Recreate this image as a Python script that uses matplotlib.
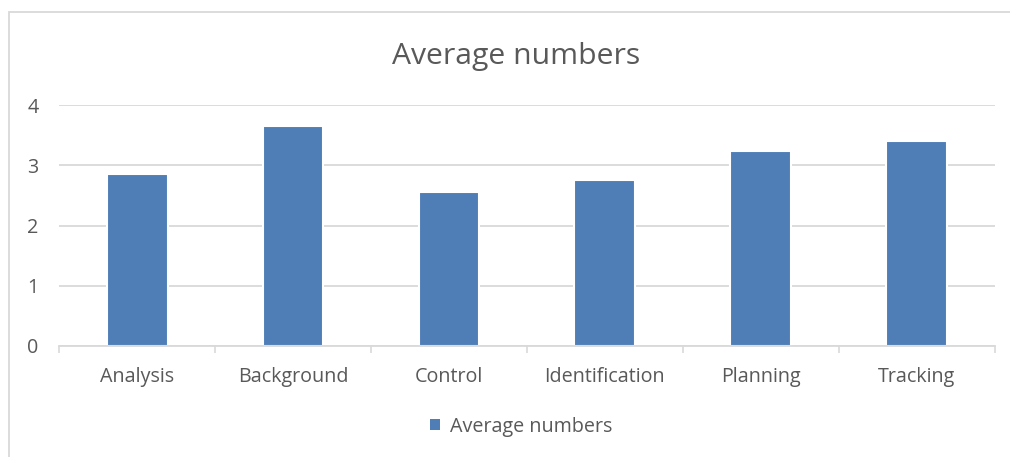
import numpy as np
import matplotlib
matplotlib.use("Agg")
import matplotlib.pyplot as plt
from matplotlib.patches import Rectangle, Patch

# data
categories = ["Analysis", "Background", "Control", "Identification", "Planning", "Tracking"]
averages = [2.86, 3.66, 2.56, 2.76, 3.24, 3.40]
y_ticks = [0, 1, 2, 3, 4]

bar_color = "#4F7EB6"
grid_color = "#D9D9D9"
text_color = "#595959"

plt.rcParams["font.family"] = ["Open Sans", "DejaVu Sans"]

fig = plt.figure(figsize=(10.1, 4.57), dpi=100)
ax = fig.add_axes([0.0587, 0.2429, 0.926, 0.5273])

x = np.arange(len(categories))
ax.bar(x, averages, width=0.39, color=bar_color, edgecolor="white", linewidth=1.5, zorder=3)

ax.set_xlim(-0.5, len(categories) - 0.5)
ax.set_ylim(0, 4)
ax.set_yticks(y_ticks)
ax.yaxis.grid(True, color=grid_color, linewidth=1.3, zorder=0)
ax.set_axisbelow(True)

ax.set_xticks(x)
ax.set_xticklabels(categories)
ax.set_xticks(np.arange(len(categories) + 1) - 0.5, minor=True)
ax.tick_params(axis="x", which="major", length=0, pad=15, labelsize=14.2, labelcolor=text_color)
ax.tick_params(axis="x", which="minor", length=5, width=1.2, color=grid_color)
ax.tick_params(axis="y", length=0, pad=15, labelsize=14.2, labelcolor=text_color)

for side in ["top", "right", "left"]:
    ax.spines[side].set_visible(False)
ax.spines["bottom"].set_color(grid_color)
ax.spines["bottom"].set_linewidth(1.3)
ax.spines["bottom"].set_zorder(4)

fig.text(0.511, 0.877, "Average numbers", ha="center", va="center", fontsize=21.7, color=text_color)

handle = Patch(facecolor=bar_color, edgecolor="none")
fig.legend([handle], ["Average numbers"], loc="center", bbox_to_anchor=(0.516, 0.066),
           frameon=False, fontsize=14.2, labelcolor=text_color,
           handlelength=0.5, handleheight=0.5, handletextpad=0.5)

# chart frame
fig.patches.append(Rectangle((9 / 1010, -0.1), 1.2, 1 - 12 / 457 + 0.1,
                             transform=fig.transFigure, fill=False,
                             edgecolor="#D9D9D9", linewidth=1.3))

fig.savefig("out.png", dpi=100)
